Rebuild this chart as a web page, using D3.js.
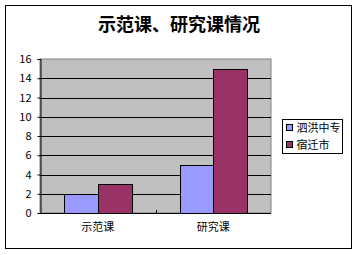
<!DOCTYPE html>
<html>
<head>
<meta charset="utf-8">
<script src="https://cdn.jsdelivr.net/npm/d3@7"></script>
<style>
  body { margin: 0; background: #fff; }
  text { font-family: "Noto Sans CJK SC", "DejaVu Sans", sans-serif; }
</style>
</head>
<body>
<svg id="chart" width="359" height="255"></svg>
<script>
// 数据
const categories = ["示范课", "研究课"];
const seriesNames = ["泗洪中专", "宿迁市"];
const seriesValues = [
  [2, 5],   // 泗洪中专
  [3, 15]   // 宿迁市
];
const yTicks = [0, 2, 4, 6, 8, 10, 12, 14, 16];
const colors = ["#9999FF", "#993366"];
const title = "示范课、研究课情况";

const svg = d3.select("#chart");

// 外框
svg.append("rect")
  .attr("x", 5.5).attr("y", 5.5)
  .attr("width", 346).attr("height", 243)
  .attr("fill", "#fff").attr("stroke", "#000");

// 标题
svg.append("text")
  .attr("x", 179).attr("y", 31)
  .attr("text-anchor", "middle")
  .attr("font-size", 18).attr("font-weight", "bold")
  .text(title);

const plot = { left: 40, top: 59, right: 271, bottom: 213 };

const x = d3.scaleBand()
  .domain(categories)
  .range([plot.left, plot.right]);

const x1 = d3.scaleBand()
  .domain(seriesNames)
  .range([0, x.bandwidth()])
  .paddingInner(0)
  .paddingOuter(0.72);

const y = d3.scaleLinear()
  .domain([0, 16])
  .range([plot.bottom, plot.top]);

// 绘图区背景
svg.append("rect")
  .attr("x", plot.left).attr("y", plot.top)
  .attr("width", plot.right - plot.left)
  .attr("height", plot.bottom - plot.top)
  .attr("fill", "#C0C0C0")
  .attr("stroke", "#808080");

// 网格线
svg.append("g")
  .selectAll("line")
  .data(yTicks.filter(d => d > 0 && d < 16))
  .enter().append("line")
  .attr("x1", plot.left).attr("x2", plot.right)
  .attr("y1", d => Math.round(y(d)) + 0.5)
  .attr("y2", d => Math.round(y(d)) + 0.5)
  .attr("stroke", "#000");

// 柱子
const groups = svg.append("g")
  .selectAll("g")
  .data(seriesNames)
  .enter().append("g")
  .attr("fill", (d, i) => colors[i]);

groups.selectAll("rect")
  .data((s, si) => categories.map((c, ci) => ({ c, s, v: seriesValues[si][ci] })))
  .enter().append("rect")
  .attr("x", d => Math.round(x(d.c) + x1(d.s)) + 0.5)
  .attr("y", d => Math.round(y(d.v)) + 0.5)
  .attr("width", Math.round(x1.bandwidth()))
  .attr("height", d => Math.round(y(0)) - Math.round(y(d.v)))
  .attr("stroke", "#000");

// Y 轴
const yAxis = svg.append("g")
  .attr("transform", `translate(${plot.left + 0.5},0)`)
  .call(d3.axisLeft(y).tickValues(yTicks).tickSize(3).tickPadding(6));
yAxis.select(".domain").attr("stroke", "#000");
yAxis.selectAll("text").attr("font-size", 11).attr("fill", "#000");

// X 轴
const xAxis = svg.append("g")
  .attr("transform", `translate(0,${plot.bottom + 0.5})`)
  .call(d3.axisBottom(x).tickSize(0).tickPadding(10));
xAxis.select(".domain").attr("d", `M${plot.left},0H${plot.right}`).attr("stroke", "#000");
xAxis.selectAll("text").attr("font-size", 11).attr("fill", "#000");

// 分类之间的刻度
svg.append("g")
  .selectAll("line")
  .data(categories.slice(1))
  .enter().append("line")
  .attr("x1", d => Math.round(x(d)) + 0.5)
  .attr("x2", d => Math.round(x(d)) + 0.5)
  .attr("y1", plot.bottom - 3).attr("y2", plot.bottom)
  .attr("stroke", "#000");

// 图例
const legend = svg.append("g").attr("transform", "translate(282.5,119.5)");
legend.append("rect")
  .attr("width", 60).attr("height", 34)
  .attr("fill", "#fff").attr("stroke", "#000");

const items = legend.selectAll("g")
  .data(seriesNames)
  .enter().append("g")
  .attr("transform", (d, i) => `translate(4,${9 + i * 17})`);

items.append("rect")
  .attr("x", 0).attr("y", -4)
  .attr("width", 6).attr("height", 6)
  .attr("fill", (d, i) => colors[i])
  .attr("stroke", "#000");

items.append("text")
  .attr("x", 10).attr("y", 3)
  .attr("font-size", 11)
  .text(d => d);
</script>
</body>
</html>
